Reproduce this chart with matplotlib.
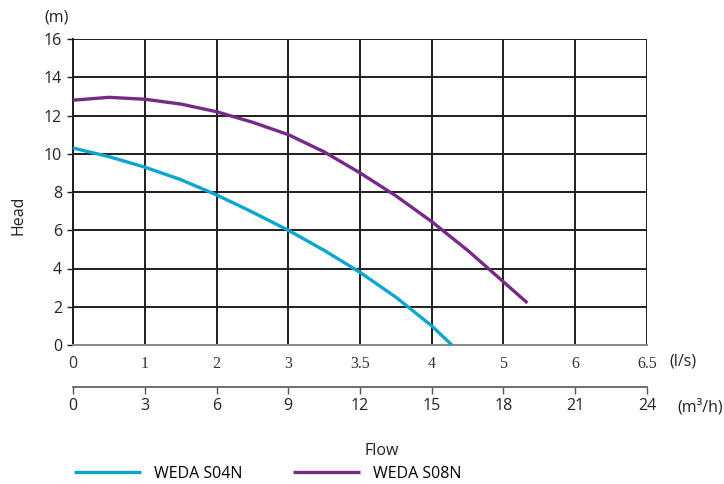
import numpy as np
import matplotlib.pyplot as plt

flow_s04 = [0, 1.5, 3, 4.5, 6, 7.5, 9, 10.5, 12, 13.5, 15, 15.84]
head_s04 = [10.3, 9.85, 9.3, 8.65, 7.85, 6.95, 6.0, 4.95, 3.8, 2.5, 1.0, 0.0]
flow_s08 = [0, 1.5, 3, 4.5, 6, 7.5, 9, 10.5, 12, 13.5, 15, 16.5, 18, 19.0]
head_s08 = [12.8, 12.95, 12.85, 12.6, 12.2, 11.65, 11.0, 10.1, 9.0, 7.8, 6.45, 4.95, 3.3, 2.2]

m3h_ticks = [0, 3, 6, 9, 12, 15, 18, 21, 24]
ls_labels = ['0', '1', '2', '3', '3.5', '4', '5', '6', '6.5']
m3h_labels = [str(v) for v in m3h_ticks]
head_ticks = [0, 2, 4, 6, 8, 10, 12, 14, 16]

sans = 'Open Sans'
fs = 11.5
grid_col = '#1e1e1e'
txt_col = '#222222'

fig = plt.figure(figsize=(7.24, 4.84), dpi=100)
ax = fig.add_axes([73/724, 1 - 345/484, 574/724, 306/484])

for v in m3h_ticks:
    ax.axvline(v, color=grid_col, lw=1.4, zorder=1)
for h in head_ticks[1:]:
    ax.axhline(h, color=grid_col, lw=1.4, zorder=1)

ax.plot(flow_s04, head_s04, color='#0aa6cf', lw=2.4, solid_capstyle='butt', zorder=3, label='WEDA S04N')
ax.plot(flow_s08, head_s08, color='#762a87', lw=2.4, solid_capstyle='butt', zorder=3, label='WEDA S08N')

ax.set_xlim(0, 24)
ax.set_ylim(0, 16)
for s in ['top', 'right']:
    ax.spines[s].set_visible(False)
ax.spines['left'].set_color(grid_col)
ax.spines['left'].set_linewidth(1.4)
ax.spines['bottom'].set_color('#8a8a8a')
ax.spines['bottom'].set_linewidth(1.4)

ax.set_yticks(head_ticks)
ax.set_yticklabels([str(v) for v in head_ticks], fontfamily=sans, fontsize=fs, color=txt_col)
ax.tick_params(axis='y', length=4, width=1, color=grid_col, pad=4)

ax.set_xticks(m3h_ticks)
ax.set_xticklabels(ls_labels, fontfamily='Liberation Serif', fontsize=11.5, color='#333333')
ax.get_xticklabels()[0].set_fontfamily(sans)
ax.get_xticklabels()[0].set_fontsize(fs)
ax.tick_params(axis='x', length=0, pad=8)

# second flow scale in m3/h
ax2 = fig.add_axes([73/724, 1 - 387/484, 574/724, 0.0001])
ax2.set_xlim(0, 24)
ax2.set_ylim(0, 1)
ax2.set_yticks([])
for s in ['top', 'right', 'left']:
    ax2.spines[s].set_visible(False)
ax2.spines['bottom'].set_color('#555555')
ax2.spines['bottom'].set_linewidth(1.2)
ax2.patch.set_visible(False)
ax2.set_xticks(m3h_ticks)
ax2.set_xticklabels(m3h_labels, fontfamily=sans, fontsize=fs, color=txt_col)
ax2.tick_params(axis='x', length=5, width=1, color='#555555', pad=3)

fig.text(683/724, 1 - 361/484, '(l/s)', ha='center', va='center', fontfamily=sans, fontsize=fs, color=txt_col)
fig.text(700/724, 1 - 407/484, '(m³/h)', ha='center', va='center', fontfamily=sans, fontsize=fs, color=txt_col)
fig.text(57/724, 1 - 17/484, '(m)', ha='center', va='center', fontfamily=sans, fontsize=fs, color=txt_col)
fig.text(18/724, 1 - 215/484, 'Head', ha='center', va='center', rotation=90, fontfamily=sans, fontsize=fs, color=txt_col)
fig.text(382/724, 1 - 451/484, 'Flow', ha='center', va='center', fontfamily=sans, fontsize=fs, color=txt_col)

h, l = ax.get_legend_handles_labels()
fig.legend(h, l, loc='center left', bbox_to_anchor=(74/724, 1 - 474/484), ncol=2, frameon=False,
           borderpad=0, borderaxespad=0, handlelength=4.2, handletextpad=0.8, columnspacing=3.2,
           prop={'family': sans, 'size': fs})

fig.savefig('out.png', dpi=100)
